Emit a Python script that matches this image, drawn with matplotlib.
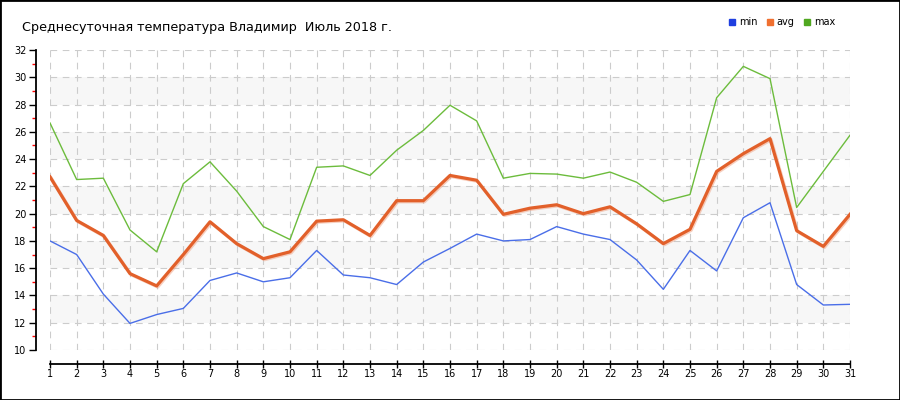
import numpy as np
import matplotlib
matplotlib.use("Agg")
import matplotlib.pyplot as plt
import matplotlib.patheffects as pe
from matplotlib.patches import Rectangle
from matplotlib.lines import Line2D

days = list(range(1, 32))
t_min = [18.0, 17.0, 14.1, 11.95, 12.6, 13.05, 15.1, 15.65, 15.0, 15.3,
         17.3, 15.5, 15.3, 14.8, 16.45, 17.45, 18.5, 18.0, 18.1, 19.05,
         18.5, 18.1, 16.6, 14.45, 17.3, 15.8, 19.7, 20.8, 14.8, 13.3, 13.35]
t_avg = [22.7, 19.5, 18.4, 15.6, 14.7, 17.0, 19.4, 17.8, 16.7, 17.2,
         19.45, 19.55, 18.4, 20.95, 20.95, 22.8, 22.45, 19.95, 20.4, 20.65,
         20.0, 20.5, 19.25, 17.8, 18.85, 23.1, 24.4, 25.5, 18.75, 17.6, 19.95]
t_max = [26.65, 22.5, 22.6, 18.8, 17.2, 22.2, 23.8, 21.65, 19.05, 18.1,
         23.4, 23.5, 22.8, 24.65, 26.1, 27.95, 26.8, 22.6, 22.95, 22.9,
         22.6, 23.05, 22.3, 20.9, 21.4, 28.5, 30.8, 29.9, 20.45, 23.1, 25.75]
bands = [(12, 14), (16, 18), (20, 22), (24, 26), (28, 30)]
title = "Среднесуточная температура Владимир  Июль 2018 г."

fig = plt.figure(figsize=(9, 4), dpi=100)
ax = fig.add_axes([50 / 900, 50 / 400, 800 / 900, 300 / 400])

for lo, hi in bands:
    ax.axhspan(lo, hi, color="#f7f7f7", zorder=0, lw=0)

ax.set_xlim(1, 31)
ax.set_ylim(10, 32)
ax.set_xticks(days)
ax.set_yticks(range(10, 33, 2))
ax.set_yticks(range(11, 32, 2), minor=True)
ax.grid(True, which="major", color="#cccccc", linestyle=(0, (6, 5)), lw=0.8, zorder=1)
ax.set_axisbelow(True)

for s in ["top", "right"]:
    ax.spines[s].set_visible(False)
ax.spines["left"].set_position(("outward", 10))
ax.spines["bottom"].set_position(("outward", 10))
ax.spines["left"].set_linewidth(1.3)
ax.spines["bottom"].set_linewidth(1.3)

ax.tick_params(axis="y", which="major", length=5, width=1, labelsize=7, pad=2)
ax.tick_params(axis="y", which="minor", length=3, width=1, color="red")
ax.tick_params(axis="x", which="major", direction="inout", length=6, width=1, labelsize=7, pad=1)

ax.plot(days, t_min, color="#4a6ee8", lw=1, zorder=3)
ax.plot(days, t_max, color="#6cbc3c", lw=1, zorder=3)
ax.plot(days, t_avg, color="#e2602a", lw=2.3, zorder=4,
        path_effects=[pe.SimpleLineShadow(offset=(0.8, -0.8), shadow_color="#f0a080", alpha=0.5),
                      pe.Normal()])

fig.text(22 / 900, 1 - 28 / 400, title, fontsize=9.2, va="center", ha="left")

handles = [Line2D([], [], marker="s", ls="", color="#1f3fe0", markersize=5),
           Line2D([], [], marker="s", ls="", color="#f07030", markersize=5),
           Line2D([], [], marker="s", ls="", color="#50a820", markersize=5)]
fig.legend(handles, ["min", "avg", "max"], loc="center right",
           bbox_to_anchor=(840 / 900, 1 - 22 / 400), ncol=3, frameon=False,
           fontsize=7, handlelength=0.8, handletextpad=0.3, columnspacing=0.9,
           borderpad=0)

fig.patches.append(Rectangle((0, 0), 1, 1, transform=fig.transFigure,
                             fill=False, edgecolor="black", lw=2))

fig.savefig("out.png", dpi=100)
